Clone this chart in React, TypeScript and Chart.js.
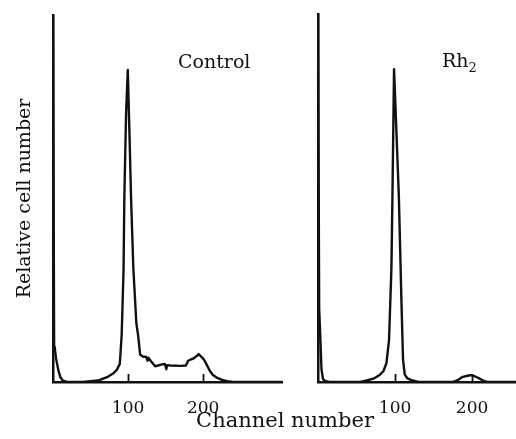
import React, { useEffect, useRef } from "react";
import { Chart, registerables } from "chart.js";

Chart.register(...registerables);

// ---- Data ----
const controlChannels = [
  0, 1.5, 2.5, 4, 7, 10, 13, 18, 40, 60, 72, 80, 85, 89, 91.5, 94, 95, 97.3, 99.6,
  101.8, 104, 107, 111, 113.5, 116, 120, 124, 126, 127, 130, 136, 140, 145, 149, 151,
  152, 156, 170, 177, 180, 184, 187, 191, 194, 197, 199, 202, 205, 209, 213, 218, 225,
  232, 240, 305,
];
const controlCounts = [
  100, 9.5, 9.0, 6.5, 3.3, 1.2, 0.4, 0.1, 0, 0.4, 1.3, 2.3, 3.3, 5.0, 13, 31, 50, 73, 85,
  68, 50, 31, 16, 12.5, 7.5, 6.9, 6.9, 5.8, 6.6, 5.8, 4.3, 4.5, 4.8, 4.9, 3.5,
  4.6, 4.5, 4.4, 4.5, 5.8, 6.2, 6.4, 7.0, 7.6, 7.0, 6.6, 5.8, 4.6, 3.0, 1.9, 1.2, 0.6,
  0.2, 0, 0,
];

const rh2Channels = [
  0, 1.5, 3, 4.5, 6.5, 10, 15, 55, 63, 72, 80, 85, 88.8, 92.2, 95.3, 96.6, 98.7, 101.8,
  105, 108.3, 110.4, 112.6, 116, 123, 130, 175, 182, 188, 194, 199, 204, 210, 216, 220, 257,
];
const rh2Counts = [
  100, 20, 12, 3.5, 0.8, 0.2, 0, 0, 0.4, 0.9, 1.9, 3.0, 5.1, 11.4, 31, 50, 85, 68,
  50, 22, 6.0, 2.0, 1.0, 0.4, 0, 0, 0.6, 1.4, 1.7, 1.9, 1.5, 0.9, 0.2, 0, 0,
];

const tickValues = [100, 200];
const controlMaxChannel = 305;
const rh2MaxChannel = 257;
const yMaxValue = 100;

const yTitle = "Relative cell number";
const xTitle = "Channel number";
const controlLabel = "Control";
const rh2Label = "Rh";
const rh2Sub = "2";

// ---- Styles ----
const INK = "#111111";
const FONT = "'DejaVu Serif', serif";

const innerTicks = {
  id: "innerTicks",
  afterDatasetsDraw(chart: any) {
    const xs = chart.scales.x;
    const area = chart.chartArea;
    const ctx = chart.ctx;
    ctx.save();
    ctx.strokeStyle = INK;
    ctx.lineWidth = 1.8;
    tickValues.forEach((v) => {
      const px = Math.round(xs.getPixelForValue(v)) + 0.5;
      ctx.beginPath();
      ctx.moveTo(px, area.bottom);
      ctx.lineTo(px, area.bottom - 8);
      ctx.stroke();
    });
    ctx.restore();
  },
};

type PanelProps = {
  channels: number[];
  counts: number[];
  maxCh: number;
  left: number;
  width: number;
  padTop: number;
  padRight: number;
  yWidth: number;
  showYTitle: boolean;
};

function Panel(p: PanelProps) {
  const ref = useRef<HTMLCanvasElement>(null);
  useEffect(() => {
    const data = p.channels.map((c, i) => ({ x: c, y: p.counts[i] }));
    const chart = new Chart(ref.current as HTMLCanvasElement, {
      type: "line",
      data: {
        datasets: [
          {
            data,
            borderColor: INK,
            borderWidth: 2.4,
            pointRadius: 0,
            fill: false,
            tension: 0,
            borderJoinStyle: "round",
          },
        ],
      },
      plugins: [innerTicks],
      options: {
        responsive: false,
        animation: false,
        events: [],
        layout: { padding: { top: p.padTop, left: 0, right: p.padRight, bottom: 0 } },
        plugins: { legend: { display: false }, tooltip: { enabled: false } },
        scales: {
          x: {
            type: "linear",
            min: 0,
            max: p.maxCh,
            afterBuildTicks: (s: any) => {
              s.ticks = tickValues.map((v) => ({ value: v }));
            },
            afterFit: (s: any) => {
              s.height = 57;
            },
            grid: { display: false },
            border: { display: true, color: INK, width: 2.5 },
            ticks: {
              color: INK,
              font: { family: FONT, size: 17 },
              padding: 8,
              maxRotation: 0,
              autoSkip: false,
            },
          },
          y: {
            type: "linear",
            min: 0,
            max: yMaxValue,
            afterFit: (s: any) => {
              s.width = p.yWidth;
            },
            grid: { display: false },
            border: { display: true, color: INK, width: 2.5 },
            ticks: { display: false },
            title: {
              display: p.showYTitle,
              text: yTitle,
              color: INK,
              font: { family: FONT, size: 19 },
              padding: { top: 14, bottom: 0 },
            },
          },
        },
      } as any,
    });
    return () => chart.destroy();
  }, []);
  return (
    <canvas
      ref={ref}
      width={p.width}
      height={439}
      style={{ position: "absolute", left: p.left, top: 0, width: p.width, height: 439, display: "block" }}
    />
  );
}

export default function App() {
  const textStyle: React.CSSProperties = {
    position: "absolute",
    fontFamily: FONT,
    color: INK,
    whiteSpace: "nowrap",
    lineHeight: "19px",
  };
  return (
    <div style={{ position: "absolute", left: 0, top: 0, width: 516, height: 439, background: "#fff", overflow: "hidden" }}>
      <Panel
        channels={controlChannels}
        counts={controlCounts}
        maxCh={controlMaxChannel}
        left={0}
        width={300}
        padTop={15}
        padRight={18}
        yWidth={53}
        showYTitle={true}
      />
      <Panel
        channels={rh2Channels}
        counts={rh2Counts}
        maxCh={rh2MaxChannel}
        left={300}
        width={216}
        padTop={14}
        padRight={0}
        yWidth={18}
        showYTitle={false}
      />
      <div style={{ ...textStyle, left: 178, top: 52, fontSize: 19 }}>{controlLabel}</div>
      <div style={{ ...textStyle, left: 442, top: 51, fontSize: 19 }}>
        {rh2Label}
        <span style={{ fontSize: 13, position: "relative", top: 5 }}>{rh2Sub}</span>
      </div>
      <div style={{ ...textStyle, left: 0, width: 570, textAlign: "center", top: 410, fontSize: 21, lineHeight: "21px" }}>
        {xTitle}
      </div>
    </div>
  );
}
